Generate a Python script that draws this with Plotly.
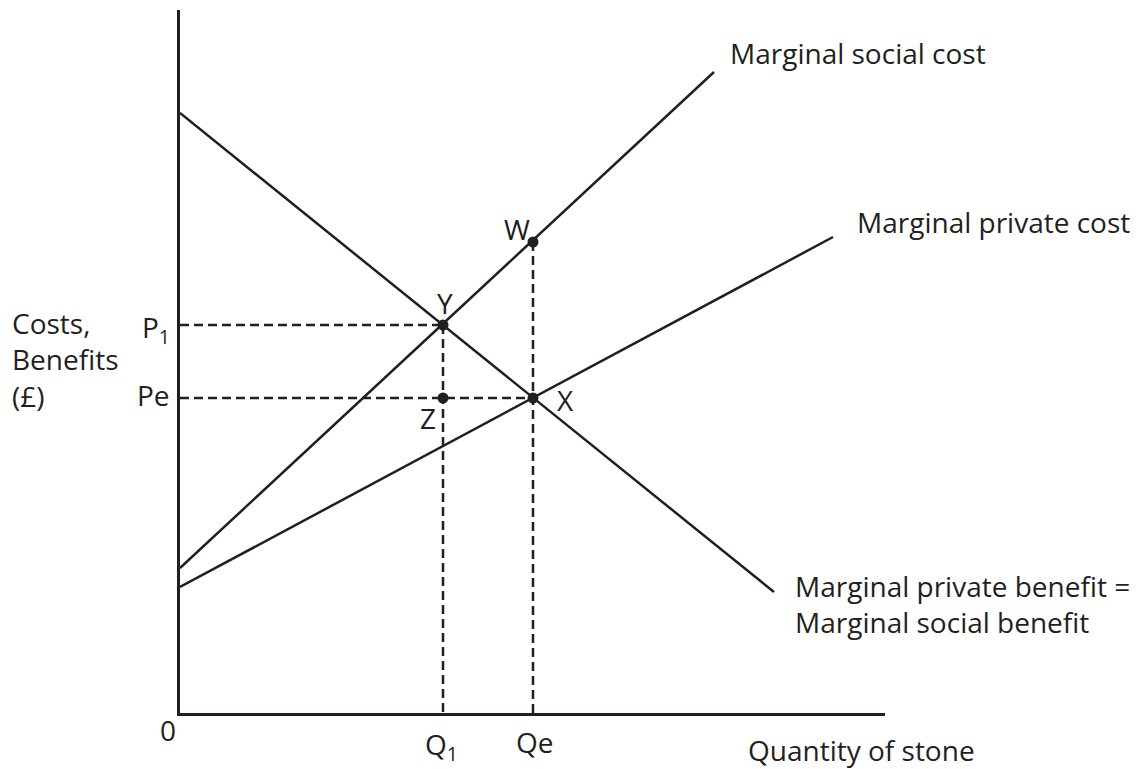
import plotly.graph_objects as go

# ---- data (quantity, cost/benefit units) ----
q_axis_max = 705
p_axis_max = 703

msc_q = [0, 534]
msc_p = [145, 641]
mpc_q = [0, 653]
mpc_p = [126, 476]
mpb_q = [0, 594]
mpb_p = [600, 121]

Q1, Qe = 263, 353
P1, Pe = 388, 315
W_p = 471

point_names = ["Y", "X", "W", "Z"]
point_q = [Q1, Qe, Qe, Q1]
point_p = [P1, Pe, W_p, Pe]

INK = "#231f20"
FONT = "Open Sans"
FS = 28

fig = go.Figure()

# dashed guide lines
dash_style = dict(color=INK, width=2.5, dash="9px,5px")
fig.add_trace(go.Scatter(x=[0, Q1], y=[P1, P1], mode="lines", line=dash_style))
fig.add_trace(go.Scatter(x=[0, Qe], y=[Pe, Pe], mode="lines", line=dash_style))
fig.add_trace(go.Scatter(x=[Q1, Q1], y=[P1, 0], mode="lines", line=dash_style))
fig.add_trace(go.Scatter(x=[Qe, Qe], y=[W_p, 0], mode="lines", line=dash_style))

# curves
solid = dict(color=INK, width=2.5)
fig.add_trace(go.Scatter(x=msc_q, y=msc_p, mode="lines", line=solid, name="Marginal social cost"))
fig.add_trace(go.Scatter(x=mpc_q, y=mpc_p, mode="lines", line=solid, name="Marginal private cost"))
fig.add_trace(go.Scatter(x=mpb_q, y=mpb_p, mode="lines", line=solid, name="MPB = MSB"))

# points
fig.add_trace(go.Scatter(x=point_q, y=point_p, mode="markers",
                         marker=dict(color=INK, size=11), cliponaxis=False))

def ann(text, x, y, xanchor="center", yanchor="middle", xshift=0, yshift=0, size=FS, align="left"):
    fig.add_annotation(text=text, x=x, y=y, xref="x", yref="y", showarrow=False,
                       xanchor=xanchor, yanchor=yanchor, xshift=xshift, yshift=yshift,
                       align=align, font=dict(family=FONT, size=size, color=INK))

# curve labels
ann("Marginal social cost", msc_q[1], msc_p[1], xanchor="left", xshift=14, yshift=19)
ann("Marginal private cost", mpc_q[1], mpc_p[1], xanchor="left", xshift=22, yshift=15)
ann("Marginal private benefit =<br>Marginal social benefit", mpb_q[1], mpb_p[1],
    xanchor="left", xshift=19, yshift=-12)

# point labels
ann("Y", Q1, P1, xshift=2, yshift=22)
ann("W", Qe, W_p, xshift=-16, yshift=13)
ann("X", Qe, Pe, xshift=32, yshift=-2)
ann("Z", Q1, Pe, xshift=-15, yshift=-20)

# axis tick labels
ann("P<sub>1</sub>", 0, P1, xanchor="right", xshift=-8, yshift=-4)
ann("Pe", 0, Pe, xanchor="right", xshift=-8, yshift=3)
ann("0", 0, 0, xshift=-12, yshift=-17)
ann("Q<sub>1</sub>", Q1, 0, xanchor="center", xshift=-2, yshift=-33)
ann("Qe", Qe, 0, xshift=2, yshift=-29)

# axis titles
ann("Quantity of stone", q_axis_max, 0, xanchor="right", xshift=92, yshift=-37)
ann("Costs,<br>Benefits<br>(£)", 0, P1, xanchor="left", xshift=-170, yshift=-34)

# page body has an 8px default margin; compensate so the plot lands where the reference has it
fig.update_layout(
    width=1138, height=761,
    margin=dict(l=172, r=261, t=2, b=56),
    paper_bgcolor="white", plot_bgcolor="white",
    showlegend=False,
    xaxis=dict(range=[0, q_axis_max], showgrid=False, zeroline=False, showticklabels=False,
               ticks="", showline=True, linecolor=INK, linewidth=3),
    yaxis=dict(range=[0, p_axis_max], showgrid=False, zeroline=False, showticklabels=False,
               ticks="", showline=True, linecolor=INK, linewidth=3),
)

fig.write_html("out.html")
